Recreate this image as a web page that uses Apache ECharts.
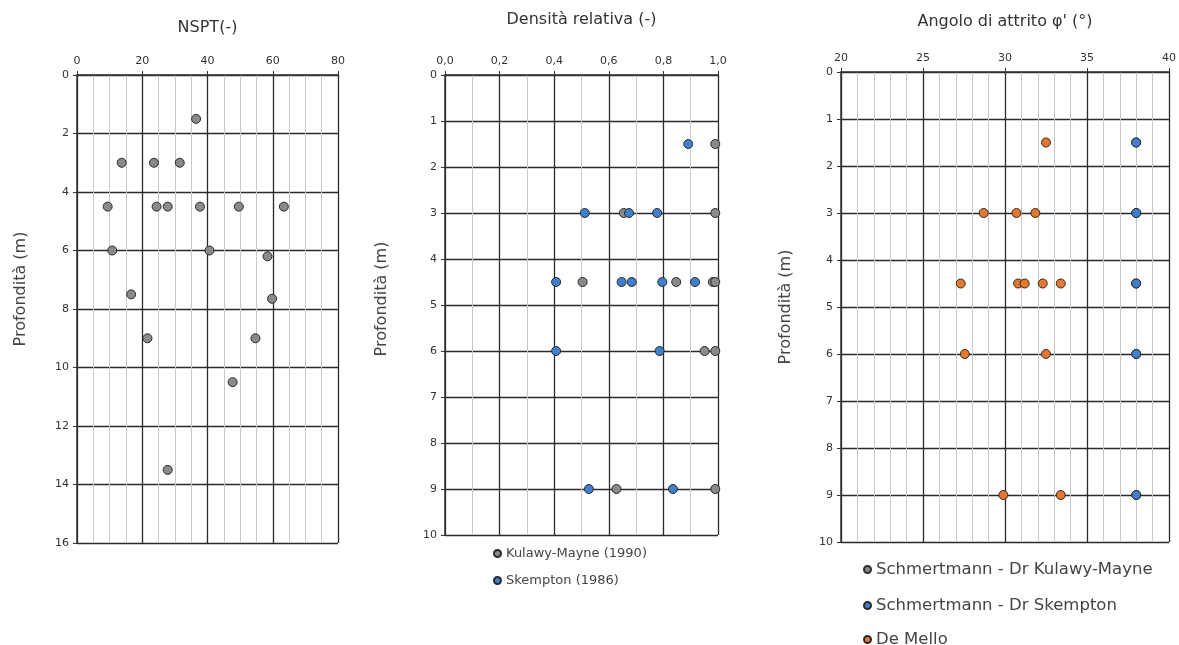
<!DOCTYPE html>
<html lang="it">
<head>
    <meta charset="UTF-8">
    <title>Prove SPT</title>
    <script src="https://cdn.jsdelivr.net/npm/echarts@6/dist/echarts.min.js"></script>
</head>
<body style="margin:0;background:#fff">
    <div id="main" style="width:1179px;height:645px"></div>
    <script type="text/javascript">
        // dati
        var nsptDepth = [1.5, 3, 3, 3, 4.5, 4.5, 4.5, 4.5, 4.5, 4.5, 6, 6, 6.2, 7.5, 7.65, 9, 9, 10.5, 13.5];
        var nsptValue = [36.5, 13.7, 23.6, 31.5, 9.4, 24.4, 27.8, 37.7, 49.6, 63.4, 10.8, 40.6, 58.4, 16.6, 59.8, 21.6, 54.7, 47.7, 27.8];

        var kmDepth = [1.5, 3, 3, 4.5, 4.5, 4.5, 4.5, 6, 6, 9, 9];
        var kmDr = [0.99, 0.655, 0.99, 0.504, 0.847, 0.981, 0.99, 0.951, 0.99, 0.628, 0.99];
        var skDepth = [1.5, 3, 3, 3, 4.5, 4.5, 4.5, 4.5, 4.5, 6, 6, 9, 9];
        var skDr = [0.891, 0.512, 0.674, 0.777, 0.407, 0.647, 0.684, 0.796, 0.916, 0.407, 0.786, 0.527, 0.835];

        var phiKmDepth = [1.5, 3, 4.5, 6, 9];
        var phiKm = [38, 38, 38, 38, 38];
        var phiSkDepth = [1.5, 3, 4.5, 6, 9];
        var phiSk = [38, 38, 38, 38, 38];
        var dmDepth = [1.5, 3, 3, 3, 4.5, 4.5, 4.5, 4.5, 4.5, 6, 6, 9, 9];
        var dmPhi = [32.5, 28.7, 30.7, 31.85, 27.3, 30.8, 31.2, 32.3, 33.4, 27.55, 32.5, 29.9, 33.4];

        function pairs(xs, ys) {
            return xs.map(function (v, i) { return [v, ys[i]]; });
        }

        var FONT = 'DejaVu Sans';
        var GRAY = '#8a8a8a', BLUE = '#3f7fcc', ORANGE = '#e8772e';

        function xAx(idx, name, min, max, interval, minorSplit, gap, fmt) {
            return {
                gridIndex: idx, type: 'value', position: 'top',
                min: min, max: max, interval: interval,
                name: name, nameLocation: 'middle', nameGap: gap,
                nameTextStyle: {fontFamily: FONT, fontSize: 16, color: '#333'},
                axisLine: {show: true, lineStyle: {color: '#333', width: 1.5}},
                axisTick: {show: true, length: 4, inside: false, lineStyle: {color: '#333'}},
                axisLabel: {fontFamily: FONT, fontSize: 11, color: '#333', margin: 8, formatter: fmt},
                splitLine: {show: true, lineStyle: {color: '#2a2a2a', width: 1.3}},
                minorTick: {show: true, splitNumber: minorSplit, length: 0},
                minorSplitLine: {show: true, lineStyle: {color: '#c8c8c8', width: 1}}
            };
        }

        function yAx(idx, max, interval, gap, pad) {
            return {
                gridIndex: idx, type: 'value', inverse: true,
                min: 0, max: max, interval: interval,
                name: 'Profondità (m)', nameLocation: 'middle', nameGap: gap,
                nameTextStyle: {fontFamily: FONT, fontSize: 16, color: '#444', padding: pad},
                axisLine: {show: true, lineStyle: {color: '#333', width: 1.5}},
                axisTick: {show: true, length: 4, lineStyle: {color: '#333'}},
                axisLabel: {fontFamily: FONT, fontSize: 11, color: '#333', margin: 8},
                splitLine: {show: true, lineStyle: {color: '#2a2a2a', width: 1.3}}
            };
        }

        function scat(name, xi, data, color) {
            return {
                name: name, type: 'scatter', xAxisIndex: xi, yAxisIndex: xi,
                data: data, symbol: 'circle', symbolSize: 9,
                itemStyle: {color: color, borderColor: '#2a2a2a', borderWidth: 1, opacity: 1},
                emphasis: {disabled: true}
            };
        }

        function leg(names, left, top, gap, size) {
            return {
                data: names, orient: 'vertical', left: left, top: top, itemGap: gap,
                padding: 0, icon: 'circle', itemWidth: 7, itemHeight: 7,
                textStyle: {fontFamily: FONT, fontSize: size, color: '#444'}
            };
        }

        var comma = function (v) { return v.toFixed(1).replace('.', ','); };

        var myChart = echarts.init(document.getElementById('main'));
        myChart.setOption({
            animation: false,
            grid: [
                {left: 77, top: 75, width: 261, height: 468},
                {left: 445, top: 75, width: 273, height: 460},
                {left: 841, top: 72, width: 332, height: 470}
            ],
            xAxis: [
                xAx(0, 'NSPT(-)', 0, 80, 20, 4, 39),
                xAx(1, 'Densità relativa (-)', 0, 1, 0.2, 2, 47, comma),
                xAx(2, "Angolo di attrito φ' (°)", 20, 40, 5, 5, 42)
            ],
            yAxis: [
                yAx(0, 16, 2, 48, [0, 0, 0, 40]),
                yAx(1, 10, 1, 55, [0, 0, 0, 12]),
                yAx(2, 10, 1, 47, [0, 0, 0, 0])
            ],
            legend: [
                leg(['Kulawy-Mayne (1990)', 'Skempton (1986)'], 493, 547, 14, 13),
                leg(['Schmertmann - Dr Kulawy-Mayne'], 863, 561, 0, 16.5),
                leg(['Schmertmann - Dr Skempton'], 863, 597, 0, 16.5),
                leg(['De Mello'], 863, 631, 0, 16.5)
            ],
            series: [
                scat('NSPT', 0, pairs(nsptValue, nsptDepth), GRAY),
                scat('Kulawy-Mayne (1990)', 1, pairs(kmDr, kmDepth), GRAY),
                scat('Skempton (1986)', 1, pairs(skDr, skDepth), BLUE),
                scat('Schmertmann - Dr Kulawy-Mayne', 2, pairs(phiKm, phiKmDepth), GRAY),
                scat('Schmertmann - Dr Skempton', 2, pairs(phiSk, phiSkDepth), BLUE),
                scat('De Mello', 2, pairs(dmPhi, dmDepth), ORANGE)
            ]
        });
    </script>
</body>
</html>
